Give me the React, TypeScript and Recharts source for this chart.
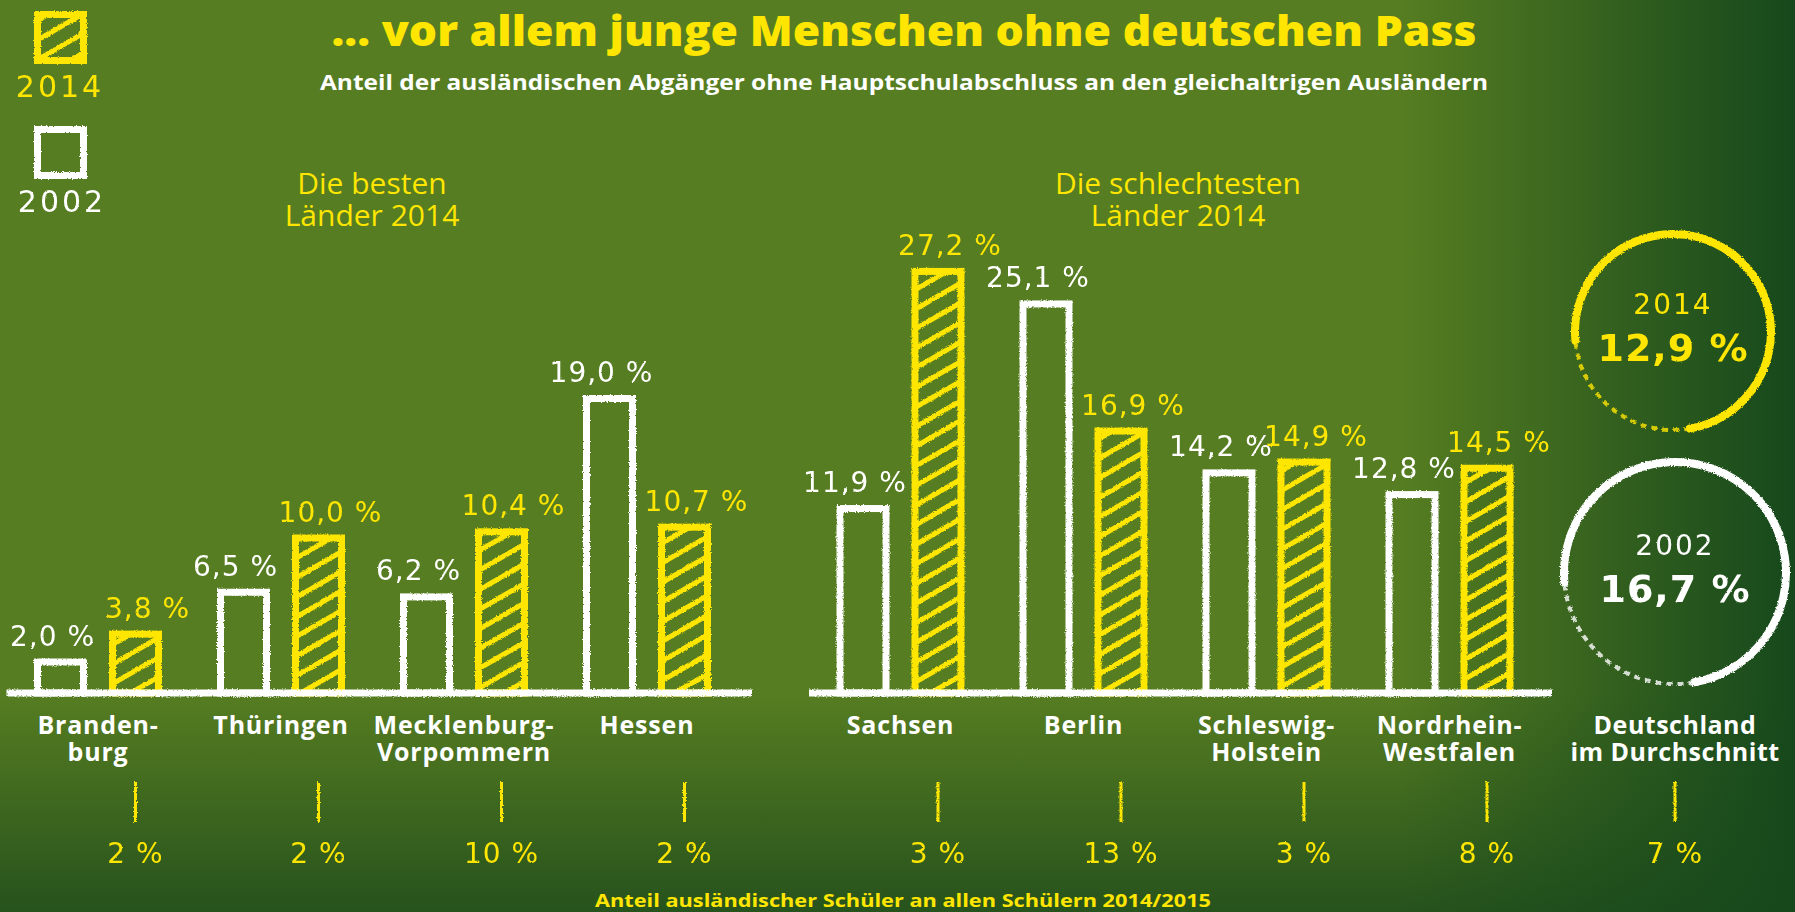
import React from 'react';
import { BarChart, Bar, XAxis, YAxis, LabelList } from 'recharts';

// ---------- data ----------
const LEFT_STATES = ['Branden-\nburg', 'Thüringen', 'Mecklenburg-\nVorpommern', 'Hessen'];
const LEFT_2002 = [2.0, 6.5, 6.2, 19.0];
const LEFT_2014 = [3.8, 10.0, 10.4, 10.7];
const LEFT_SHARE = [2, 2, 10, 2];

const RIGHT_STATES = ['Sachsen', 'Berlin', 'Schleswig-\nHolstein', 'Nordrhein-\nWestfalen'];
const RIGHT_2002 = [11.9, 25.1, 14.2, 12.8];
const RIGHT_2014 = [27.2, 16.9, 14.9, 14.5];
const RIGHT_SHARE = [3, 13, 3, 8];

const DE_LABEL = ['Deutschland', 'im Durchschnitt'];
const DE_2002 = 16.7;
const DE_2014 = 12.9;
const DE_SHARE = 7;

const YEAR_NEW = '2014';
const YEAR_OLD = '2002';
const Y_DOMAIN = [0, 30];

const TITLE = '... vor allem junge Menschen ohne deutschen Pass';
const SUBTITLE = 'Anteil der ausländischen Abgänger ohne Hauptschulabschluss an den gleichaltrigen Ausländern';
const LEFT_HEAD = ['Die besten', 'Länder 2014'];
const RIGHT_HEAD = ['Die schlechtesten', 'Länder 2014'];
const FOOTER = 'Anteil ausländischer Schüler an allen Schülern 2014/2015';

// ---------- style ----------
const YELLOW = '#FFE600';
const WHITE = '#FFFFFF';
const SANS = '"Open Sans", "DejaVu Sans", sans-serif';
const HAND = '"DejaVu Sans", sans-serif';

const fmt = (v: number) => v.toFixed(1).replace('.', ',') + ' %';

const ChalkBar = (props: any) => {
  const { x, y, width, height, fill, stroke } = props;
  if (width == null || height == null) return null;
  return (
    <rect
      x={x}
      y={y}
      width={width}
      height={height}
      fill={fill}
      stroke={stroke}
      strokeWidth={7}
      filter="url(#chalk)"
    />
  );
};

const valueLabel = (color: string, dx: number) => (props: any) => {
  const { x, y, width, value } = props;
  return (
    <text
      x={Number(x) + Number(width) / 2 + dx}
      y={Number(y) - 26}
      fill={color}
      textAnchor="middle"
      dominantBaseline="central"
      style={{ fontFamily: HAND, fontSize: 28, letterSpacing: 1 }}
      filter="url(#chalkText)"
    >
      {fmt(Number(value))}
    </text>
  );
};

const StateTick = (props: any) => {
  const { x, y, payload, states, shares } = props;
  const idx = states.indexOf(payload.value);
  const lines = String(payload.value).split('\n');
  const tx = x + 37.5;
  return (
    <g>
      <text textAnchor="middle" fill={WHITE} style={{ fontFamily: SANS, fontWeight: 700, fontSize: 25, letterSpacing: 0.8 }}>
        {lines.map((l: string, i: number) => (
          <tspan key={i} x={x} y={y + 31 + i * 27} dominantBaseline="central">
            {l}
          </tspan>
        ))}
      </text>
      <line x1={tx} x2={tx} y1={y + 89} y2={y + 129} stroke={YELLOW} strokeWidth={3} filter="url(#chalkLine)" />
      <text
        x={tx}
        y={y + 160}
        textAnchor="middle"
        dominantBaseline="central"
        fill={YELLOW}
        style={{ fontFamily: HAND, fontSize: 28, letterSpacing: 1 }}
        filter="url(#chalkText)"
      >
        {shares[idx]} %
      </text>
    </g>
  );
};

function StateChart(props: {
  states: string[];
  v2002: number[];
  v2014: number[];
  shares: number[];
  left: number;
  marginLeft: number;
  padRight: number;
}) {
  const { states, v2002, v2014, shares, left, marginLeft, padRight } = props;
  const data = states.map((s, i) => ({ name: s, y2002: v2002[i], y2014: v2014[i] }));
  return (
    <div style={{ position: 'absolute', left, top: 0 }}>
      <BarChart
        width={760}
        height={912}
        data={data}
        margin={{ top: 228, right: 8, bottom: 0, left: marginLeft }}
        barGap={29}
        barSize={46}
        style={{ overflow: 'visible' }}
      >
        <YAxis hide domain={Y_DOMAIN} />
        <XAxis
          dataKey="name"
          height={219}
          tickSize={0}
          tickMargin={0}
          interval={0}
          padding={{ left: 0, right: padRight }}
          axisLine={{ stroke: WHITE, strokeWidth: 7, filter: 'url(#chalkLine)' }}
          tickLine={false}
          tick={<StateTick states={states} shares={shares} />}
        />
        <Bar dataKey="y2002" fill="none" stroke={WHITE} shape={<ChalkBar />} isAnimationActive={false}>
          <LabelList dataKey="y2002" content={valueLabel(WHITE, -8)} />
        </Bar>
        <Bar dataKey="y2014" fill="url(#hatch)" stroke={YELLOW} shape={<ChalkBar />} isAnimationActive={false}>
          <LabelList dataKey="y2014" content={valueLabel(YELLOW, 12)} />
        </Bar>
      </BarChart>
    </div>
  );
}

function arcPath(cx: number, cy: number, r: number, a0: number, a1: number) {
  const rad = (a: number) => (a * Math.PI) / 180;
  const x0 = cx + r * Math.cos(rad(a0));
  const y0 = cy + r * Math.sin(rad(a0));
  const x1 = cx + r * Math.cos(rad(a1));
  const y1 = cy + r * Math.sin(rad(a1));
  let sweep = a1 - a0;
  if (sweep < 0) sweep += 360;
  const large = sweep > 180 ? 1 : 0;
  return `M ${x0} ${y0} A ${r} ${r} 0 ${large} 1 ${x1} ${y1}`;
}

function AvgCircle(props: { cx: number; cy: number; r: number; color: string; year: string; value: number }) {
  const { cx, cy, r, color, year, value } = props;
  return (
    <g>
      <path d={arcPath(cx, cy, r, 175, 80)} fill="none" stroke={color} strokeWidth={8} strokeLinecap="round" filter="url(#chalkLine)" />
      <path d={arcPath(cx, cy, r, 80, 175)} fill="none" stroke={color} strokeWidth={4} strokeDasharray="6 5" opacity={0.8} filter="url(#chalkLine)" />
      <text x={cx} y={cy - 28} textAnchor="middle" dominantBaseline="central" fill={color} style={{ fontFamily: HAND, fontSize: 28, letterSpacing: 2 }} filter="url(#chalkText)">
        {year}
      </text>
      <text x={cx} y={cy + 16} textAnchor="middle" dominantBaseline="central" fill={color} style={{ fontFamily: HAND, fontWeight: 700, fontSize: 38, letterSpacing: 1 }} filter="url(#chalkText)">
        {fmt(value)}
      </text>
    </g>
  );
}

export default function App() {
  return (
    <div
      style={{
        position: 'absolute',
        left: 0,
        top: 0,
        width: 1795,
        height: 912,
        overflow: 'hidden',
        background:
          'linear-gradient(to right, rgba(22,72,28,0) 0%, rgba(22,72,28,0) 78%, rgba(22,72,28,0.55) 90%, rgba(22,72,28,1) 100%), ' +
          'linear-gradient(to bottom, rgba(30,75,28,0) 0%, rgba(30,75,28,0) 76%, rgba(30,75,28,0.85) 100%), #567D21',
      }}
    >
      <svg width={1795} height={912} style={{ position: 'absolute', left: 0, top: 0 }}>
        <defs>
          <pattern id="hatch" patternUnits="userSpaceOnUse" width={12} height={17} patternTransform="rotate(-30)">
            <rect x={0} y={0} width={12} height={5} fill={YELLOW} />
          </pattern>
          <filter id="chalk" x="-10%" y="-10%" width="120%" height="120%">
            <feTurbulence type="fractalNoise" baseFrequency="0.8" numOctaves={2} result="n" />
            <feDisplacementMap in="SourceGraphic" in2="n" scale={3} xChannelSelector="R" yChannelSelector="G" />
          </filter>
          <filter id="chalkLine" filterUnits="userSpaceOnUse" x={-100} y={-100} width={2000} height={1200}>
            <feTurbulence type="fractalNoise" baseFrequency="0.8" numOctaves={2} result="n" />
            <feDisplacementMap in="SourceGraphic" in2="n" scale={3} xChannelSelector="R" yChannelSelector="G" />
          </filter>
          <filter id="chalkText" x="-10%" y="-10%" width="120%" height="120%">
            <feTurbulence type="fractalNoise" baseFrequency="1.2" numOctaves={1} result="n" />
            <feDisplacementMap in="SourceGraphic" in2="n" scale={2} xChannelSelector="R" yChannelSelector="G" />
          </filter>
        </defs>

        {/* title */}
        <text x={904} y={29} textAnchor="middle" dominantBaseline="central" fill={YELLOW} textLength={1145} lengthAdjust="spacingAndGlyphs" style={{ fontFamily: SANS, fontWeight: 800, fontSize: 43 }}>
          {TITLE}
        </text>
        <text x={904} y={82} textAnchor="middle" dominantBaseline="central" fill={WHITE} textLength={1168} lengthAdjust="spacingAndGlyphs" style={{ fontFamily: SANS, fontWeight: 700, fontSize: 21 }}>
          {SUBTITLE}
        </text>

        {/* legend */}
        <rect x={37.5} y={14.5} width={46} height={46} fill="url(#hatch)" stroke={YELLOW} strokeWidth={7} filter="url(#chalk)" />
        <text x={60} y={86} textAnchor="middle" dominantBaseline="central" fill={YELLOW} style={{ fontFamily: HAND, fontSize: 30, letterSpacing: 3 }} filter="url(#chalkText)">
          {YEAR_NEW}
        </text>
        <rect x={37.5} y={129.5} width={46} height={46} fill="none" stroke={WHITE} strokeWidth={7} filter="url(#chalk)" />
        <text x={62} y={201} textAnchor="middle" dominantBaseline="central" fill={WHITE} style={{ fontFamily: HAND, fontSize: 30, letterSpacing: 3 }} filter="url(#chalkText)">
          {YEAR_OLD}
        </text>

        {/* section headings */}
        {LEFT_HEAD.map((t, i) => (
          <text key={'l' + i} x={372} y={182 + i * 32} textAnchor="middle" dominantBaseline="central" fill={YELLOW} style={{ fontFamily: SANS, fontWeight: 500, fontSize: 30 }}>
            {t}
          </text>
        ))}
        {RIGHT_HEAD.map((t, i) => (
          <text key={'r' + i} x={1178} y={182 + i * 32} textAnchor="middle" dominantBaseline="central" fill={YELLOW} style={{ fontFamily: SANS, fontWeight: 500, fontSize: 30 }}>
            {t}
          </text>
        ))}

        {/* Germany average */}
        <AvgCircle cx={1673} cy={332} r={98} color={YELLOW} year={YEAR_NEW} value={DE_2014} />
        <AvgCircle cx={1675} cy={573} r={111} color={WHITE} year={YEAR_OLD} value={DE_2002} />
        <text textAnchor="middle" fill={WHITE} style={{ fontFamily: SANS, fontWeight: 700, fontSize: 25, letterSpacing: 0.5 }}>
          {DE_LABEL.map((l, i) => (
            <tspan key={i} x={1675} y={724 + i * 27} dominantBaseline="central">
              {l}
            </tspan>
          ))}
        </text>
        <line x1={1675} x2={1675} y1={782} y2={822} stroke={YELLOW} strokeWidth={3} filter="url(#chalkLine)" />
        <text x={1675} y={853} textAnchor="middle" dominantBaseline="central" fill={YELLOW} style={{ fontFamily: HAND, fontSize: 28, letterSpacing: 1 }} filter="url(#chalkText)">
          {DE_SHARE} %
        </text>

        {/* footer */}
        <text x={903} y={900} textAnchor="middle" dominantBaseline="central" fill={YELLOW} textLength={616} lengthAdjust="spacingAndGlyphs" style={{ fontFamily: SANS, fontWeight: 700, fontSize: 18 }}>
          {FOOTER}
        </text>
      </svg>

      <StateChart states={LEFT_STATES} v2002={LEFT_2002} v2014={LEFT_2014} shares={LEFT_SHARE} left={0} marginLeft={6.5} padRight={13.5} />
      <StateChart states={RIGHT_STATES} v2002={RIGHT_2002} v2014={RIGHT_2014} shares={RIGHT_SHARE} left={800} marginLeft={9} padRight={11} />
    </div>
  );
}
